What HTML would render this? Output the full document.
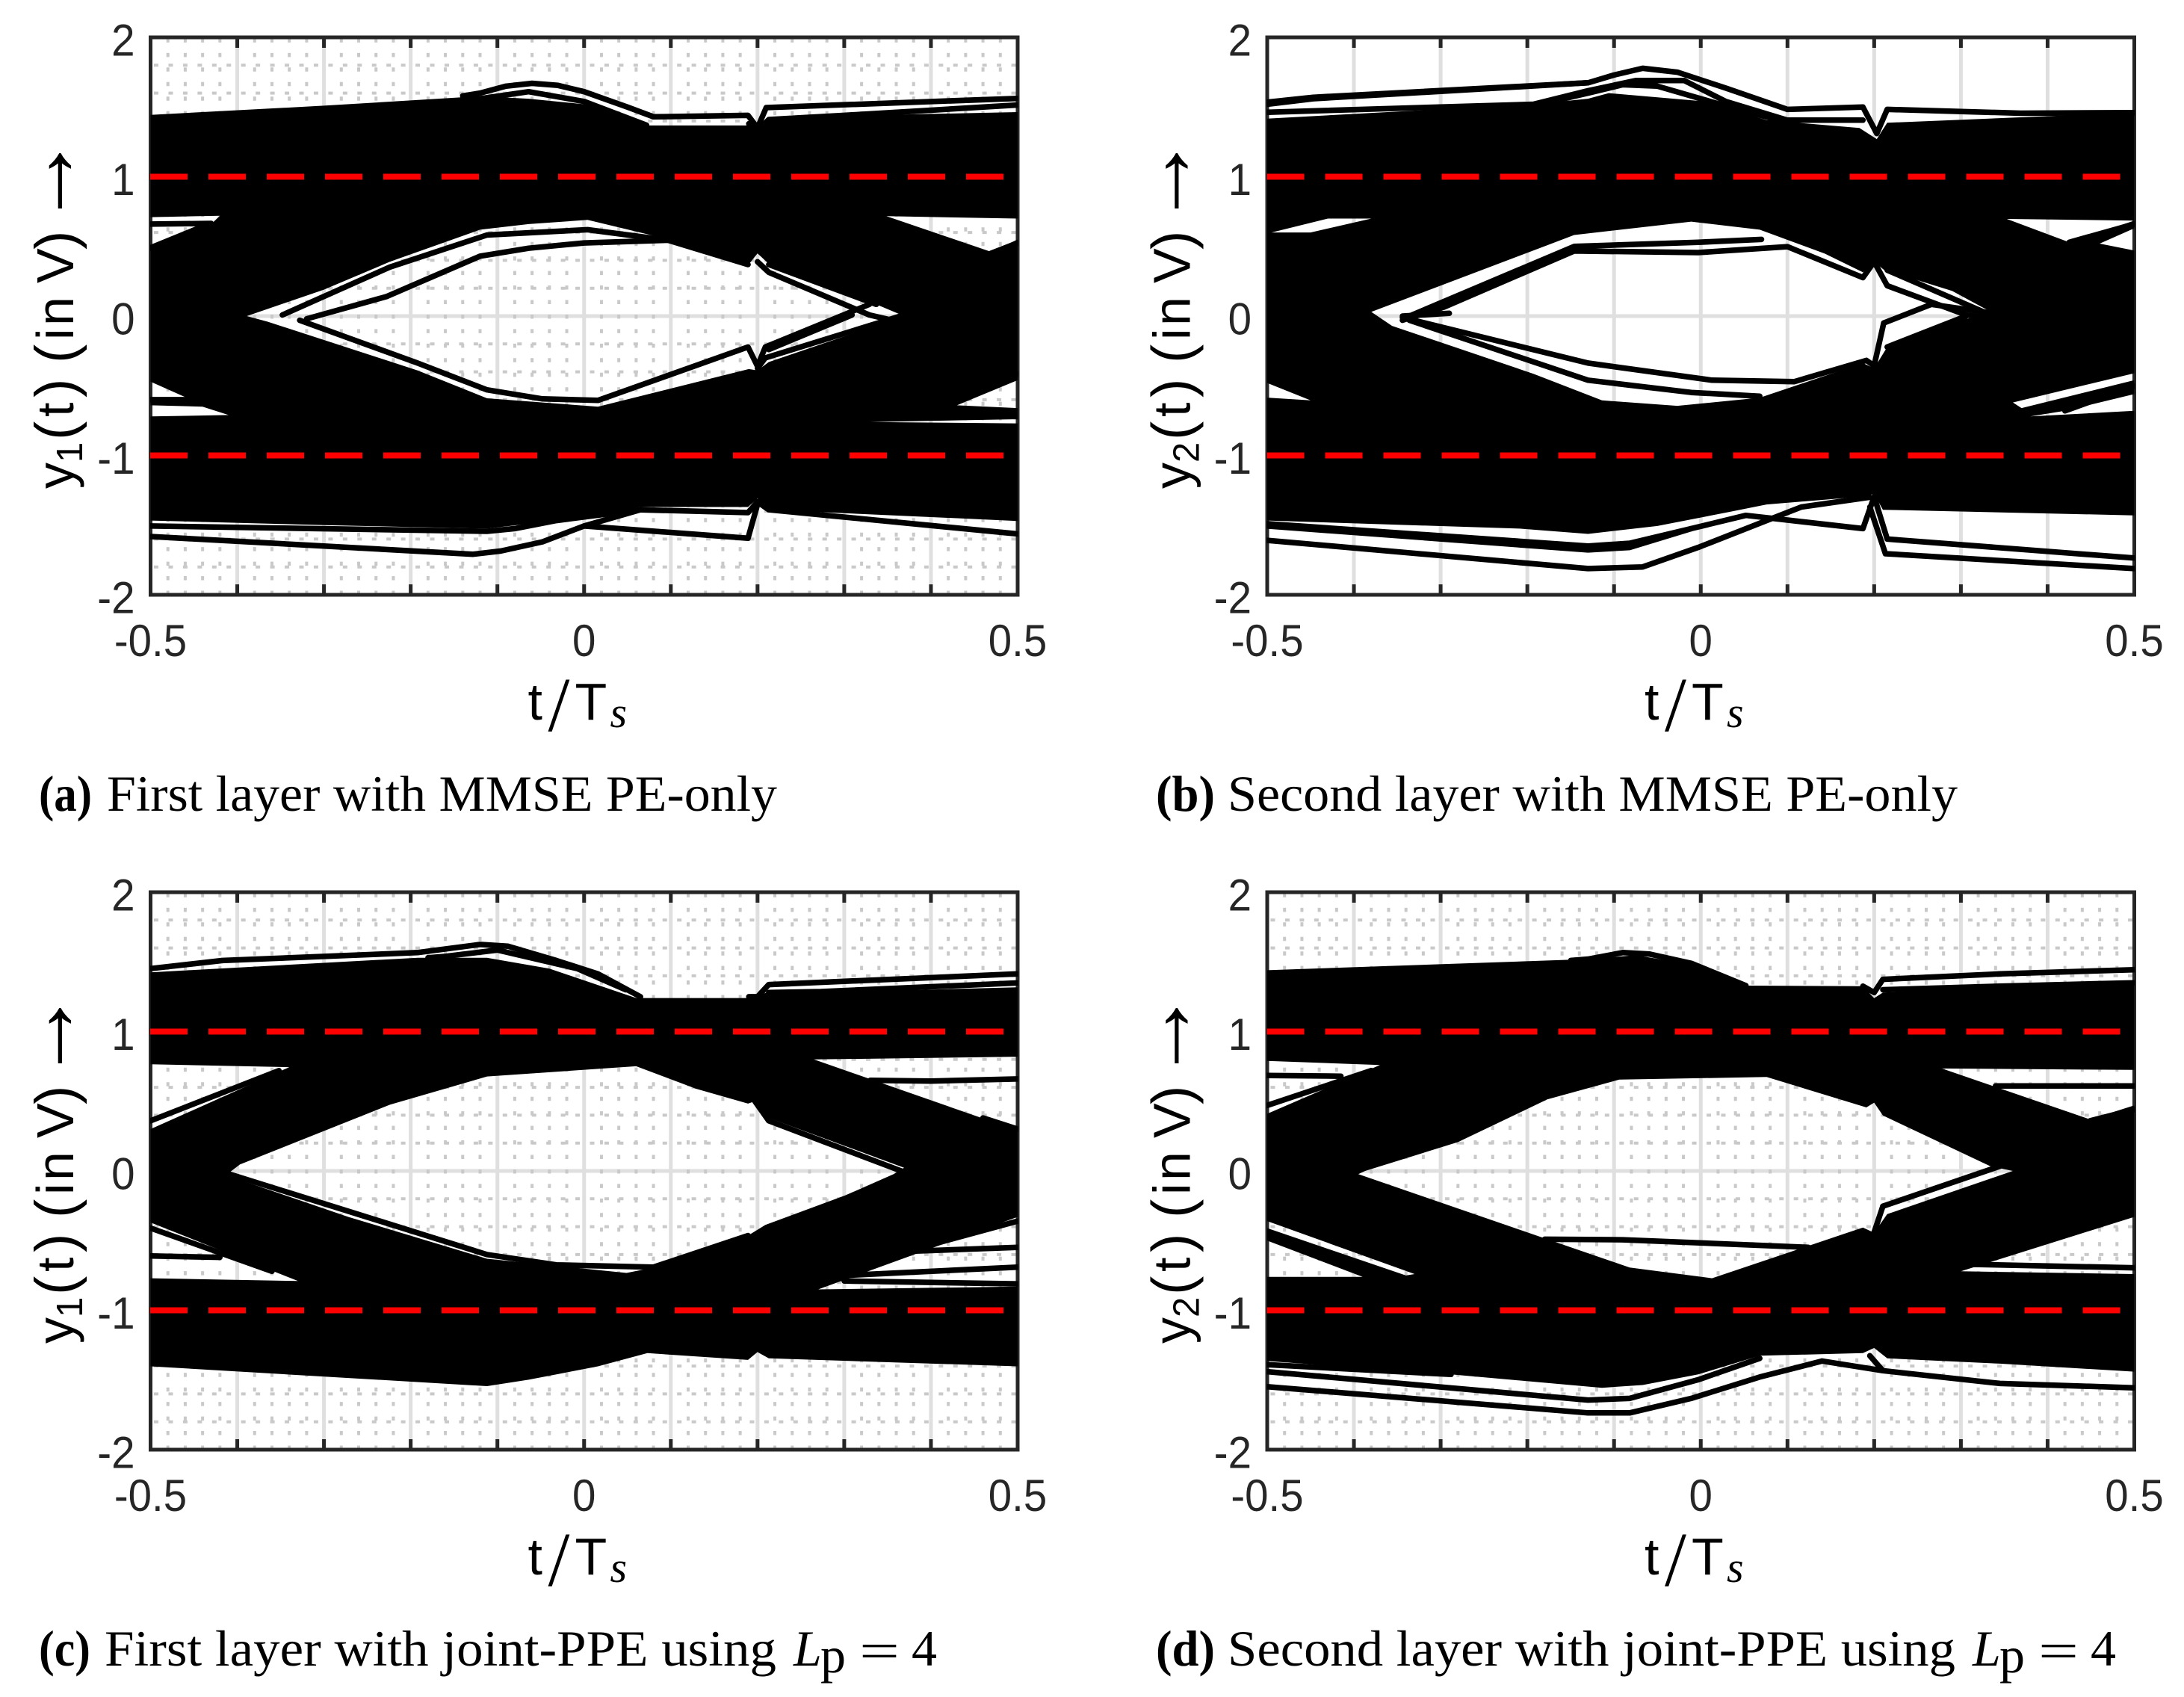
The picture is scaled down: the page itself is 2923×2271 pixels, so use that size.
<!DOCTYPE html>
<html>
<head>
<meta charset="utf-8">
<title>Eye diagrams</title>
<style>
html,body{margin:0;padding:0;background:#fff;width:2923px;height:2271px;overflow:hidden}
svg{display:block}
.tick{font-family:"Liberation Sans",sans-serif;font-size:60px;fill:#262626}
.axt{font-family:"Liberation Sans",sans-serif;font-size:70px;fill:#000}
.cap{font-family:"Liberation Serif",serif;font-size:68px;fill:#000}
</style>
</head>
<body>
<svg id="fig" xmlns="http://www.w3.org/2000/svg" width="2923" height="2271" viewBox="0 0 2923 2271">
  <rect width="2923" height="2271" fill="#fff"/>
  <g id="panels"></g>

  <g transform="translate(201.5,50)">
    <text class="axt"><tspan x="505" y="913">t</tspan><tspan x="532" y="928" font-size="104" font-family="Liberation Serif">/</tspan><tspan x="568" y="913">T</tspan><tspan x="615" y="923" font-family="Liberation Serif" font-style="italic" font-size="58">s</tspan></text>
  </g>
  <g transform="translate(1696,50)">
    <text class="axt"><tspan x="505" y="913">t</tspan><tspan x="532" y="928" font-size="104" font-family="Liberation Serif">/</tspan><tspan x="568" y="913">T</tspan><tspan x="615" y="923" font-family="Liberation Serif" font-style="italic" font-size="58">s</tspan></text>
  </g>
  <g transform="translate(201.5,1194)">
    <text class="axt"><tspan x="505" y="913">t</tspan><tspan x="532" y="928" font-size="104" font-family="Liberation Serif">/</tspan><tspan x="568" y="913">T</tspan><tspan x="615" y="923" font-family="Liberation Serif" font-style="italic" font-size="58">s</tspan></text>
  </g>
  <g transform="translate(1696,1194)">
    <text class="axt"><tspan x="505" y="913">t</tspan><tspan x="532" y="928" font-size="104" font-family="Liberation Serif">/</tspan><tspan x="568" y="913">T</tspan><tspan x="615" y="923" font-family="Liberation Serif" font-style="italic" font-size="58">s</tspan></text>
  </g>

  <text class="axt" transform="translate(98,654) rotate(-90)"><tspan x="0" y="0">y</tspan><tspan x="35" y="12" font-size="49">1</tspan><tspan x="65" y="2" font-size="76">(</tspan><tspan x="96" y="0">t</tspan><tspan x="122" y="0" dy="2" font-size="76">)</tspan><tspan x="168" y="2" font-size="76">(</tspan><tspan x="199" y="0">i</tspan><tspan x="218" y="0">n</tspan><tspan x="275" y="0">V</tspan><tspan x="320" y="2" font-size="76">)</tspan><tspan x="349.5" y="3" font-size="125">→</tspan></text>
  <text class="axt" transform="translate(1592.5,654) rotate(-90)"><tspan x="0" y="0">y</tspan><tspan x="35" y="12" font-size="49">2</tspan><tspan x="65" y="2" font-size="76">(</tspan><tspan x="96" y="0">t</tspan><tspan x="122" y="2" font-size="76">)</tspan><tspan x="168" y="2" font-size="76">(</tspan><tspan x="199" y="0">i</tspan><tspan x="218" y="0">n</tspan><tspan x="275" y="0">V</tspan><tspan x="320" y="2" font-size="76">)</tspan><tspan x="349.5" y="3" font-size="125">→</tspan></text>
  <text class="axt" transform="translate(98,1798) rotate(-90)"><tspan x="0" y="0">y</tspan><tspan x="35" y="12" font-size="49">1</tspan><tspan x="65" y="2" font-size="76">(</tspan><tspan x="96" y="0">t</tspan><tspan x="122" y="2" font-size="76">)</tspan><tspan x="168" y="2" font-size="76">(</tspan><tspan x="199" y="0">i</tspan><tspan x="218" y="0">n</tspan><tspan x="275" y="0">V</tspan><tspan x="320" y="2" font-size="76">)</tspan><tspan x="349.5" y="3" font-size="125">→</tspan></text>
  <text class="axt" transform="translate(1592.5,1798) rotate(-90)"><tspan x="0" y="0">y</tspan><tspan x="35" y="12" font-size="49">2</tspan><tspan x="65" y="2" font-size="76">(</tspan><tspan x="96" y="0">t</tspan><tspan x="122" y="2" font-size="76">)</tspan><tspan x="168" y="2" font-size="76">(</tspan><tspan x="199" y="0">i</tspan><tspan x="218" y="0">n</tspan><tspan x="275" y="0">V</tspan><tspan x="320" y="2" font-size="76">)</tspan><tspan x="349.5" y="3" font-size="125">→</tspan></text>

  <g>
    <text class="cap" x="52" y="1085" font-weight="bold" textLength="71" lengthAdjust="spacingAndGlyphs">(a)</text>
    <text class="cap" x="143" y="1085" textLength="897" lengthAdjust="spacingAndGlyphs">First layer with MMSE PE-only</text>
  </g>
  <g>
    <text class="cap" x="1547" y="1085" font-weight="bold" textLength="79" lengthAdjust="spacingAndGlyphs">(b)</text>
    <text class="cap" x="1643" y="1085" textLength="977" lengthAdjust="spacingAndGlyphs">Second layer with MMSE PE-only</text>
  </g>
  <g>
    <text class="cap" x="52" y="2229" font-weight="bold" textLength="69" lengthAdjust="spacingAndGlyphs">(c)</text>
    <text class="cap" x="140" y="2229" textLength="899" lengthAdjust="spacingAndGlyphs">First layer with joint-PPE using</text>
    <text class="cap" x="1062" y="2229" font-style="italic">L</text>
    <text class="cap" x="1098" y="2238" font-size="48">p</text>
    <text class="cap" x="1150" y="2232" font-size="82" textLength="54" lengthAdjust="spacingAndGlyphs">=</text>
    <text class="cap" x="1220" y="2229">4</text>
  </g>
  <g>
    <text class="cap" x="1547" y="2229" font-weight="bold" textLength="79" lengthAdjust="spacingAndGlyphs">(d)</text>
    <text class="cap" x="1643" y="2229" textLength="974" lengthAdjust="spacingAndGlyphs">Second layer with joint-PPE using</text>
    <text class="cap" x="2640" y="2229" font-style="italic">L</text>
    <text class="cap" x="2676" y="2238" font-size="48">p</text>
    <text class="cap" x="2728" y="2232" font-size="82" textLength="54" lengthAdjust="spacingAndGlyphs">=</text>
    <text class="cap" x="2798" y="2229">4</text>
  </g>
</svg>
<script>
const xTickLabels = ['-0.5','0','0.5'];
const yTickLabels = ['2','1','0','-1','-2'];
const yTickValues = [2,1,0,-1,-2];
const xLabelValues = [-0.5,0,0.5];
const xMajor = [-0.4,-0.3,-0.2,-0.1,0,0.1,0.2,0.3,0.4];
const yMajor = [-1,0,1];
const refLevels = [1,-1];

/* ---- panel (a) ---- */
const aMassTop = [[-.5,1.444],[-.3,1.51],[-.12,1.578],[-.064,1.56],[0,1.52],[.072,1.368],[.189,1.368],[.2,1.31],[.213,1.41],[.2265,1.428],[.5,1.464]];
const aMassBottom = [[-.5,-1.467],[-.3,-1.5],[-.112,-1.525],[-.032,-1.467],[.065,-1.37],[.189,-1.37],[.2,-1.31],[.213,-1.39],[.5,-1.47]];
const aEye = [[-.389,0],[-.3,.19],[-.224,.39],[-.12,.62],[-.064,.66],[.004,.69],[.097,.552],[.189,.364],[.2,.45],[.213,.375],[.332,.097],[.369,0],[.213,-.33],[.2,-.39],[.19,-.38],[.016,-.65],[-.048,-.62],[-.112,-.59],[-.192,-.39],[-.365,-.04]];
const aWedges = [
  [[-.5,.71],[-.42,.72],[-.43,.66],[-.5,.49]],
  [[.3486,.717],[.5,.70],[.5,.55],[.47,.46]],
  [[-.5,-.47],[-.5,-.585],[-.457,-.59]],
  [[-.5,-.64],[-.44,-.65],[-.41,-.71],[-.5,-.72]],
  [[.43,-.64],[.5,-.46],[.5,-.66]],
  [[.33,-.76],[.5,-.74],[.5,-.77]]
];
const aTraces = [
  [[-.14,1.58],[-.12,1.6],[-.09,1.65],[-.06,1.67],[-.03,1.655],[0,1.61],[.05,1.5],[.08,1.43],[.189,1.44],[.2,1.35],[.21,1.496],[.5,1.562]],
  [[-.14,1.55],[-.12,1.56],[-.064,1.61],[0,1.54],[.072,1.37]],
  [[.19,1.38],[.2,1.33],[.213,1.41],[.3,1.44],[.5,1.515]],
  [[-.5,.66],[-.43,.665]],
  [[-.5,.49],[-.433,.66]],
  [[.469,.45],[.5,.525]],
  [[-.32,-.02],[-.228,.14],[-.12,.43],[-.064,.487],[0,.525],[.097,.544]],
  [[-.348,.008],[-.224,.352],[-.112,.582],[.004,.62],[.097,.544],[.189,.37]],
  [[.2,.39],[.213,.314],[.329,.008],[.369,-.05]],
  [[.213,.37],[.337,.084]],
  [[.369,.008],[.209,-.3],[.2,-.375]],
  [[.329,.084],[.209,-.222],[.2,-.36],[.189,-.222],[.016,-.605]],
  [[.309,.008],[.213,-.24]],
  [[-.328,-.03],[-.192,-.337],[-.112,-.529],[-.048,-.594],[.016,-.605]],
  [[.5,-.414],[.41,-.605]],
  [[-.5,-.6],[-.44,-.6]],
  [[-.5,-1.506],[-.112,-1.544],[-.08,-1.525],[-.032,-1.467],[.065,-1.39],[.189,-1.41],[.2,-1.333],[.213,-1.39],[.5,-1.563]],
  [[-.5,-1.582],[-.128,-1.709],[-.096,-1.686],[-.048,-1.62],[0,-1.506],[.065,-1.39]],
  [[0,-1.506],[.189,-1.594],[.2,-1.352]]
];

/* ---- panel (b) ---- */
const bMassTop = [[-.5,1.417],[-.193,1.52],[-.13,1.56],[-.106,1.6],[.005,1.54],[.076,1.406],[.183,1.35],[.203,1.27],[.215,1.387],[.5,1.46]];
const bMassBottom = [[-.5,-1.467],[-.209,-1.525],[-.13,-1.563],[-.05,-1.506],[.029,-1.41],[.076,-1.352],[.187,-1.295],[.2,-1.276],[.21,-1.39],[.5,-1.43]];
const bEye = [[-.38,.03],[-.178,.506],[-.146,.582],[-.011,.678],[.068,.62],[.143,.448],[.187,.314],[.2,.39],[.211,.333],[.29,.18],[.3376,.02],[.306,-.02],[.215,-.222],[.2,-.375],[.187,-.337],[.068,-.586],[-.027,-.644],[-.114,-.605],[-.193,-.414],[-.356,-.07]];
const bWedges = [
  [[.353,.697],[.5,.685],[.425,.53]],
  [[.46,.52],[.5,.63],[.5,.47]],
  [[-.495,.6],[-.43,.7],[-.38,.7],[-.45,.6]],
  [[-.5,-.48],[-.5,-.585],[-.45,-.605]],
  [[.38,-.72],[.5,-.68],[.5,-.56],[.42,-.68]],
  [[.36,-.62],[.5,-.41],[.5,-.46],[.37,-.66]]
];
const bTraces = [
  [[-.5,1.52],[-.447,1.56],[-.13,1.674],[-.1,1.73],[-.067,1.778],[-.027,1.75],[.029,1.636],[.1,1.483],[.187,1.5],[.203,1.31],[.215,1.483],[.369,1.456],[.5,1.46]],
  [[-.5,1.535],[-.447,1.57],[-.13,1.674]],
  [[-.5,1.463],[-.193,1.52],[-.13,1.617],[-.075,1.69],[-.019,1.69],[.029,1.54],[.1,1.406],[.187,1.406]],
  [[-.2,1.5],[-.13,1.6],[-.09,1.66],[-.05,1.65],[0,1.56],[.05,1.47],[.1,1.39]],
  [[-.5,-1.609],[-.13,-1.812],[-.067,-1.8],[-.003,-1.66],[.076,-1.467],[.116,-1.37],[.195,-1.3]],
  [[.195,-1.37],[.213,-1.705],[.5,-1.812]],
  [[-.5,-1.506],[-.13,-1.678],[-.082,-1.66],[-.011,-1.525],[.052,-1.43],[.187,-1.525],[.2,-1.295],[.215,-1.6],[.5,-1.736]],
  [[-.5,-1.49],[-.13,-1.65],[-.082,-1.63],[-.011,-1.525]],
  [[-.344,-.03],[-.296,.065],[-.146,.467],[-.003,.456],[.1,.498],[.187,.276],[.2,.39],[.215,.218],[.306,.008],[.34,-.02]],
  [[-.34,-.01],[-.146,.5],[-.003,.53],[.07,.55]],
  [[.215,.33],[.33,.02]],
  [[-.344,-.01],[-.13,-.337],[.013,-.46],[.108,-.47],[.191,-.318],[.2,-.356],[.211,-.05],[.266,.084],[.3376,.02]],
  [[-.336,-.03],[-.13,-.46],[-.011,-.548],[.068,-.575]],
  [[.215,-.222],[.306,0]],
  [[.5,.66],[.425,.53]],
  [[.5,-.5],[.42,-.68]],
  [[-.344,0],[-.29,.02]]
];

/* ---- panel (c) ---- */
const cMassTop = [[-.5,1.425],[-.192,1.53],[-.112,1.53],[-.04,1.452],[.06,1.241],[.197,1.241],[.21,1.28],[.273,1.28],[.5,1.318]];
const cMassBottom = [[-.5,-1.402],[-.112,-1.544],[-.064,-1.498],[.016,-1.402],[.073,-1.307],[.189,-1.356],[.2,-1.3],[.213,-1.345],[.5,-1.402]];
const cEye = [[-.397,.046],[-.224,.475],[-.112,.678],[.06,.751],[.129,.59],[.189,.483],[.197,.5],[.213,.38],[.369,.023],[.357,-.023],[.301,-.176],[.209,-.387],[.189,-.464],[.089,-.682],[.049,-.732],[-.112,-.63],[-.272,-.33],[-.413,-.03]];
const cWedges = [
  [[-.5,.765],[-.34,.745],[-.5,.3]],
  [[.265,.8],[.5,.82],[.5,.29]],
  [[-.5,-.37],[-.33,-.79],[-.5,-.77]],
  [[.5,-.33],[.27,-.85],[.5,-.83]]
];
const cTraces = [
  [[-.5,1.452],[-.417,1.51],[-.192,1.567],[-.12,1.625],[-.088,1.613],[-.032,1.51],[.016,1.414],[.065,1.25]],
  [[-.18,1.53],[-.16,1.54],[-.1,1.585],[-.008,1.452],[.048,1.3]],
  [[.19,1.25],[.2,1.25],[.213,1.337],[.5,1.414]],
  [[.213,1.28],[.273,1.287],[.5,1.349]],
  [[-.5,.36],[-.352,.72]],
  [[.33,.65],[.4,.645],[.5,.66]],
  [[.197,.5],[.213,.36],[.37,-.01]],
  [[-.413,-.015],[-.112,-.6],[-.032,-.674],[.08,-.69],[.189,-.464]],
  [[-.5,-.41],[-.36,-.72]],
  [[-.5,-.61],[-.42,-.62]],
  [[.37,-.578],[.5,-.548]],
  [[.3,-.75],[.5,-.69]],
  [[.3,-.79],[.5,-.81]],
  [[.37,-.58],[.5,-.36]],
  [[.5,.3],[.46,.38]]
];

/* ---- panel (d) ---- */
const dMassTop = [[-.5,1.44],[-.13,1.52],[-.075,1.548],[-.019,1.49],[.052,1.33],[.187,1.326],[.2,1.24],[.21,1.28],[.5,1.364]];
const dMassBottom = [[-.5,-1.364],[-.288,-1.46],[-.114,-1.556],[-.067,-1.536],[-.003,-1.46],[.068,-1.326],[.187,-1.307],[.2,-1.27],[.215,-1.345],[.345,-1.383],[.5,-1.44]];
const dEye = [[-.387,0],[-.28,.207],[-.177,.513],[-.094,.655],[.076,.674],[.191,.456],[.2,.49],[.21,.398],[.334,.034],[.36,0],[.215,-.31],[.2,-.444],[.187,-.406],[.013,-.77],[-.082,-.693],[-.177,-.49],[-.395,-.023]];
const dWedges = [
  [[-.5,.79],[-.37,.76],[-.5,.41]],
  [[.278,.735],[.5,.725],[.5,.47],[.449,.37]],
  [[-.5,-.5],[-.39,-.76],[-.5,-.76]],
  [[-.5,-.36],[-.33,-.74],[-.34,-.75],[-.5,-.41]],
  [[.5,-.33],[.3,-.72],[.5,-.74]]
];
const dTraces = [
  [[-.15,1.51],[-.13,1.52],[-.09,1.567],[-.059,1.556],[-.011,1.49],[.052,1.33]],
  [[.187,1.326],[.2,1.28],[.21,1.375],[.345,1.414],[.5,1.444]],
  [[.21,1.3],[.345,1.326],[.5,1.35]],
  [[-.5,-1.548],[-.13,-1.736],[-.082,-1.736],[-.011,-1.632],[.068,-1.479],[.14,-1.364],[.21,-1.433],[.345,-1.525],[.5,-1.556]],
  [[-.5,-1.44],[-.13,-1.644],[-.082,-1.632],[-.003,-1.498],[.068,-1.345]],
  [[-.5,-1.39],[-.288,-1.46]],
  [[.195,-1.326],[.21,-1.433]],
  [[-.18,-.49],[-.09,-.494],[.124,-.548]],
  [[.21,-.253],[.2,-.44]],
  [[.21,-.253],[.345,.034]],
  [[-.5,.685],[-.415,.68]],
  [[-.5,.47],[-.38,.72]],
  [[.34,.61],[.5,.61]],
  [[.449,.36],[.5,.44]],
  [[.31,-.67],[.5,-.695]]
];

const panels = [
  {id:'a',left:201.5,top:50,minor:true,massTop:aMassTop,massBottom:aMassBottom,eye:aEye,wedges:aWedges,traces:aTraces},
  {id:'b',left:1696,top:50,minor:false,massTop:bMassTop,massBottom:bMassBottom,eye:bEye,wedges:bWedges,traces:bTraces},
  {id:'c',left:201.5,top:1194,minor:true,massTop:cMassTop,massBottom:cMassBottom,eye:cEye,wedges:cWedges,traces:cTraces},
  {id:'d',left:1696,top:1194,minor:true,massTop:dMassTop,massBottom:dMassBottom,eye:dEye,wedges:dWedges,traces:dTraces}
];

const NS = 'http://www.w3.org/2000/svg';
const W = 1160.5, H = 746;
function mk(tag, attrs, parent){
  const el = document.createElementNS(NS, tag);
  for (const k in attrs) el.setAttribute(k, attrs[k]);
  parent.appendChild(el);
  return el;
}
function ptsToD(pts, sx, sy){
  return pts.map((p,i)=>(i?'L':'M')+sx(p[0]).toFixed(1)+' '+sy(p[1]).toFixed(1)).join('');
}
function squeeze(el){
  el.setAttribute('textLength', (el.getComputedTextLength() * 0.94).toFixed(1));
  el.setAttribute('lengthAdjust', 'spacingAndGlyphs');
}
const root = document.getElementById('panels');

panels.forEach(function(P){
  const sx = t => P.left + (t + 0.5) * W;
  const sy = v => P.top + (2 - v) / 4 * H;
  const g = mk('g', {}, root);
  
  

  const cp = mk('clipPath', {id:'clip-' + P.id}, g);
  mk('rect', {x:P.left - 0.5, y:P.top - 1, width:W + 1, height:H + 2}, cp);

  /* major grid */
  const grid = mk('g', {stroke:'#dfdfdf','stroke-width':5,fill:'none'}, g);
  
  
  xMajor.forEach(function(t){
    mk('path', {d:'M'+sx(t)+' '+P.top+'V'+(P.top+H)}, grid);
  });
  yMajor.forEach(function(v){
    mk('path', {d:'M'+P.left+' '+sy(v)+'H'+(P.left+W)}, grid);
  });

  /* minor grid */
  if (P.minor){
    const mg = mk('g', {stroke:'#c9c9c9','stroke-width':4,fill:'none'}, g);
    
    
    for (let i = 1; i < 50; i++){
      if (i % 5 === 0) continue;
      const t = -0.5 + i * 0.02;
      mk('path', {d:'M'+sx(t)+' '+(P.top+H)+'V'+P.top,'stroke-dasharray':'5.5 13.95'}, mg);
    }
    for (let i = 1; i < 20; i++){
      if (i % 5 === 0) continue;
      const v = 2 - i * 0.2;
      mk('path', {d:'M'+P.left+' '+sy(v)+'H'+(P.left+W),'stroke-dasharray':'6 13.45','stroke-dashoffset':14.95}, mg);
    }
  }

  /* ticks and box */
  const ticks = mk('g', {stroke:'#262626','stroke-width':5,fill:'none'}, g);
  
  
  xMajor.forEach(function(t){
    mk('path', {d:'M'+sx(t)+' '+P.top+'v14M'+sx(t)+' '+(P.top+H)+'v-14'}, ticks);
  });
  yMajor.forEach(function(v){
    mk('path', {d:'M'+P.left+' '+sy(v)+'h14M'+(P.left+W)+' '+sy(v)+'h-14'}, ticks);
  });
  const box = mk('rect', {x:P.left,y:P.top,width:W,height:H,fill:'none',stroke:'#262626','stroke-width':5}, g);
  
  

  /* eye-diagram mass */
  const eg = mk('g', {'clip-path':'url(#clip-' + P.id + ')'}, g);
  
  
  const outer = P.massTop.concat(P.massBottom.slice().reverse());
  let d = ptsToD(outer, sx, sy) + 'Z' + ptsToD(P.eye, sx, sy) + 'Z';
  P.wedges.forEach(function(w){ d += ptsToD(w, sx, sy) + 'Z'; });
  const mass = mk('path', {d:d, fill:'#000','fill-rule':'evenodd'}, eg);
  
  
  P.traces.forEach(function(tr){
    const line = mk('path', {d:ptsToD(tr, sx, sy), fill:'none', stroke:'#000','stroke-width':7.5,'stroke-linejoin':'round','stroke-linecap':'round'}, eg);
    
    
  });

  /* reference levels */
  refLevels.forEach(function(v){
    const r = mk('path', {d:'M'+(P.left-0.5)+' '+sy(v)+'H'+(P.left+W), stroke:'#ff0000','stroke-width':8,'stroke-dasharray':'50 28',fill:'none'}, g);
    
    
  });

  /* tick labels */
  yTickValues.forEach(function(v,i){
    const tx = mk('text', {class:'tick', x:P.left - 21, y:sy(v) + 24.5, 'text-anchor':'end'}, g);
    tx.textContent = yTickLabels[i];
    
    
    squeeze(tx);
  });
  xLabelValues.forEach(function(t,i){
    const tx = mk('text', {class:'tick', x:sx(t), y:P.top + H + 82, 'text-anchor':'middle'}, g);
    tx.textContent = xTickLabels[i];
    
    
    squeeze(tx);
  });
});
</script>
</body>
</html>
